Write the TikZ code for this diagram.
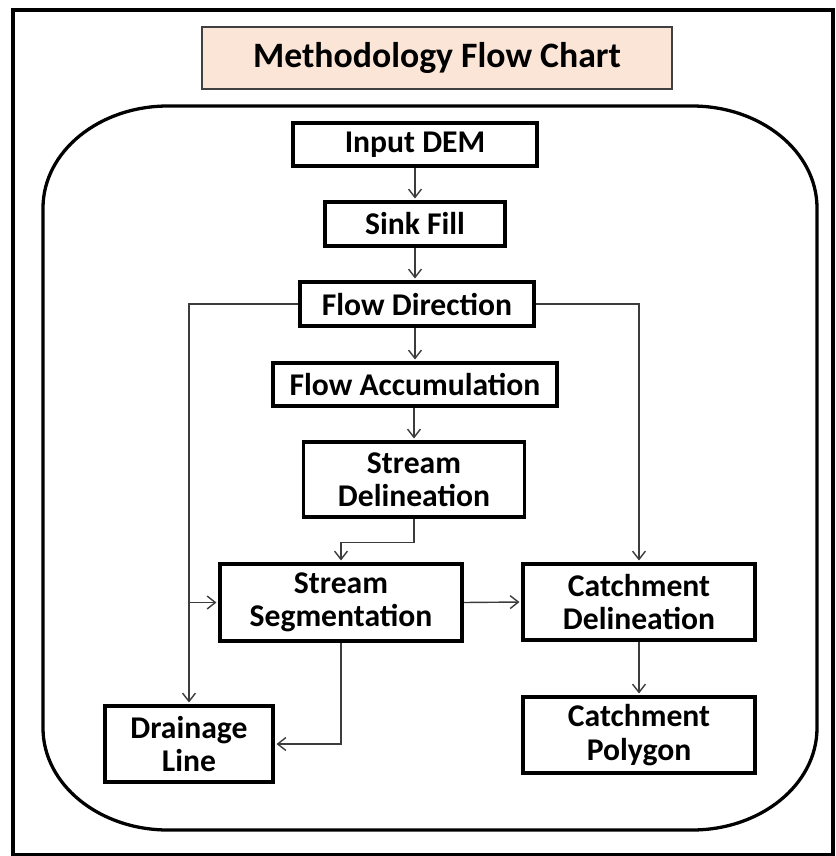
\documentclass[tikz,border=0pt]{standalone}
\usepackage{fontspec}
\setmainfont{Carlito}
\usetikzlibrary{arrows.meta, positioning, calc}
\definecolor{titlefill}{HTML}{FBE5D6}
\definecolor{linegray}{HTML}{3C3C3C}
\tikzset{
  stepbox/.style  = {rectangle, draw=black, line width=3pt, fill=white,
                     align=center, inner sep=0pt,
                     font=\bfseries\fontsize{27}{28.5}\selectfont},
  titlebox/.style = {rectangle, draw=black!75, line width=1.6pt,
                     fill=titlefill, inner sep=0pt,
                     font=\bfseries\fontsize{30.5}{32}\selectfont},
  arr/.style      = {-{Straight Barb[length=7pt,width=11pt]},
                     line width=1.2pt, draw=linegray, shorten >=1.5pt},
  frame/.style    = {line width=2.8pt},
}

\begin{document}
\begin{tikzpicture}[x=0.03cm, y=0.03cm]
  \useasboundingbox (0,0) rectangle (836,-856);

  % outer frame and rounded panel
  \draw[frame] (13,-10) rectangle (833,-855);
  \draw[frame] (168,-106) -- (692,-106)
    arc[start angle=90, end angle=0, x radius=3.75cm, y radius=3.06cm]
    -- (817,-728)
    arc[start angle=0, end angle=-90, x radius=3.75cm, y radius=3.06cm]
    -- (168,-830)
    arc[start angle=270, end angle=180, x radius=3.75cm, y radius=3.06cm]
    -- (43,-208)
    arc[start angle=180, end angle=90, x radius=3.75cm, y radius=3.06cm]
    -- cycle;

  % title
  \node[titlebox, minimum width=14.1cm, minimum height=1.86cm]
    (title) at (437,-58) {Methodology Flow Chart};

  % steps
  \node[stepbox, minimum width=7.32cm, minimum height=1.29cm]
    (dem) at (415,-144.5) {Input DEM};
  \node[stepbox, minimum width=5.40cm, minimum height=1.32cm]
    (sink) at (415,-224) {Sink Fill};
  \node[stepbox, minimum width=7.02cm, minimum height=1.32cm]
    (fdir) at (417,-304) {Flow Direction};
  \node[stepbox, minimum width=8.52cm, minimum height=1.29cm]
    (facc) at (415,-384.5) {Flow Accumulation};
  \node[stepbox, minimum width=6.63cm, minimum height=2.25cm]
    (sdel) at (414,-479.5) {Stream\\Delineation};
  \node[stepbox, minimum width=7.26cm, minimum height=2.31cm]
    (sseg) at (341,-602.5) {Stream\\Segmentation};
  \node[stepbox, minimum width=6.96cm, minimum height=2.28cm]
    (cdel) at (639,-602) {Catchment\\Delineation};
  \node[stepbox, minimum width=5.04cm, minimum height=2.28cm]
    (drain) at (189,-744) {Drainage\\Line};
  \node[stepbox, minimum width=6.96cm, minimum height=2.28cm]
    (cpoly) at (639,-735) {Catchment\\Polygon};

  % connectors
  \draw[arr] (dem) -- (sink);
  \draw[arr] (sink.south) -- (sink.south |- fdir.north);
  \draw[arr] (fdir.south -| facc) -- (facc);
  \draw[arr] (facc.south -| sdel) -- (sdel);
  \draw[arr] (sdel.south) -- ++(0,-24) -| (sseg.north);
  \draw[arr] (fdir.west) -| (drain.north);
  \draw[arr] (drain.north |- sseg.west) -- (sseg.west);
  \draw[arr] (fdir.east) -| (cdel.north);
  \draw[arr] (sseg.east) -- (cdel.west);
  \draw[arr] (sseg.south) |- (drain.east);
  \draw[arr] (cdel) -- (cpoly);
\end{tikzpicture}
\end{document}
